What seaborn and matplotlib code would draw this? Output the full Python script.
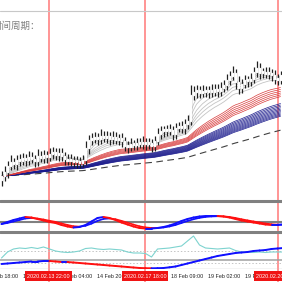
import numpy as np
import pandas as pd
import matplotlib
matplotlib.use("Agg")
import matplotlib.pyplot as plt
from matplotlib.collections import LineCollection
from matplotlib.lines import Line2D
import seaborn as sns

# hourly closes (one per candle)
closes = [
    1565.5, 1567.5, 1570.5, 1572.5, 1571.5, 1573.5, 1573.0, 1574.5, 1573.5, 1575.0,
    1574.0, 1573.0, 1575.5, 1574.5, 1576.0, 1575.0, 1576.5, 1577.5, 1576.0, 1577.0,
    1575.5, 1574.0, 1573.0, 1573.5, 1572.5, 1573.0, 1572.0, 1573.5, 1579.5, 1583.5,
    1584.0, 1585.0, 1584.0, 1585.5, 1584.5, 1585.5, 1584.0, 1585.0, 1583.5, 1584.5,
    1583.0, 1580.5, 1580.0, 1581.5, 1581.0, 1582.0, 1581.5, 1582.5, 1581.5, 1582.0,
    1580.5, 1583.0, 1586.5, 1588.0, 1588.5, 1588.0, 1588.5, 1586.5, 1589.5, 1590.0,
    1589.5, 1591.5, 1593.0, 1606.0, 1607.5, 1608.5, 1607.0, 1608.0, 1607.5, 1608.5,
    1607.5, 1609.0, 1608.0, 1609.5, 1611.0, 1613.5, 1615.5, 1617.0, 1612.5, 1609.5,
    1611.5, 1613.5, 1613.0, 1614.0, 1617.5, 1619.5, 1617.0, 1617.5, 1616.5, 1617.0,
    1616.0, 1614.0, 1613.5, 1616.0,
]
first_open = 1563.5
hi_ext = [
    2.5, 3.0, 2.5, 3.5, 2.0, 2.5, 3.0, 2.5, 2.0, 3.0,
    2.5, 2.0, 3.5, 2.5, 2.5, 2.0, 3.0, 2.5, 2.0, 2.5,
    2.5, 2.0, 2.5, 3.0, 2.0, 2.5, 2.0, 2.5, 3.5, 2.5,
    3.0, 2.5, 2.0, 3.5, 2.5, 2.5, 2.0, 3.0, 2.5, 2.0,
    2.5, 2.0, 2.5, 3.0, 2.0, 2.5, 2.5, 3.0, 2.0, 2.5,
    2.0, 2.5, 3.0, 2.5, 2.0, 2.5, 3.0, 2.0, 2.5, 2.5,
    3.0, 2.5, 3.0, 5.0, 3.0, 2.5, 2.0, 3.0, 2.5, 2.0,
    3.0, 2.5, 2.5, 3.0, 2.5, 3.0, 2.5, 3.5, 2.0, 3.0,
    2.5, 2.5, 2.0, 3.0, 2.5, 3.5, 2.5, 2.0, 2.5, 3.0,
    2.0, 2.5, 2.5, 2.0,
]
lo_ext = [
    3.0, 2.5, 3.0, 2.0, 2.5, 3.0, 2.5, 2.0, 3.0, 2.5,
    2.0, 3.0, 2.5, 2.0, 2.5, 3.0, 2.0, 2.5, 2.5, 3.0,
    2.5, 3.0, 2.0, 2.5, 2.5, 3.0, 2.5, 2.0, 2.5, 3.0,
    2.5, 2.0, 3.0, 2.5, 2.0, 2.5, 3.0, 2.5, 2.0, 2.5,
    3.0, 2.5, 3.0, 2.0, 2.5, 2.5, 2.0, 2.5, 3.0, 2.5,
    3.0, 2.5, 2.0, 2.5, 3.0, 2.5, 2.0, 3.0, 2.5, 2.0,
    2.5, 3.0, 2.5, 2.0, 2.5, 3.0, 2.5, 2.0, 2.5, 3.0,
    2.5, 2.0, 3.0, 2.5, 2.0, 2.5, 2.5, 2.0, 3.5, 3.0,
    2.5, 2.0, 3.0, 2.5, 2.0, 2.5, 3.0, 2.5, 2.0, 2.5,
    3.0, 2.5, 2.5, 2.0,
]

# moving average groups (EMA spans)
gray_spans = [4, 6, 9, 12, 15, 19]
red_spans = [32, 35, 38, 41, 44, 47]
blue_spans = [60, 63, 66, 69, 72, 75, 78, 81, 84, 87, 90]
slow_span = 140

# indicator panels, sampled every 2 bars
osc_x = list(range(0, 96, 2))
osc1 = [-2, 0, 2, 3.5, 5, 4.5, 3, 1.5,
        0, -1, -3, -4.5, -5.5, -5, -3, 0.5,
        4, 5, 4, 2, -0.5, -2.5, -4.5, -6,
        -6.5, -6.5, -6, -5, -3.5, -1.5, 1, 3,
        4.5, 5.5, 6, 6, 6, 5.5, 4.5, 3,
        1.5, 0.5, -0.5, -1.5, -2.5, -3, -3, -2.5]
osc2 = [-4, -3.5, -3, -2.5, -2, -1.5, -1.5, -1,
        -1, -1.5, -2, -2, -2.5, -3, -3.5, -4,
        -4.5, -5, -5.5, -6, -6.5, -7, -7.5, -8,
        -8.2, -8.3, -8.2, -8, -7.3, -6.5, -5, -3.5,
        -2, -0.5, 1, 2.5, 4, 5, 6, 7,
        7.5, 8, 9, 9.5, 10, 11, 11.5, 12]
cyan = [2, 8, 11, 12, 11.5, 12.5, 11.5, 13,
        11, 9, 8, 7.5, 8, 9, 11.5, 12,
        11, 10.5, 11, 10.5, 10, 8, 7, 7,
        6.5, 3, 11, 11.5, 12, 13, 14, 19,
        24, 15, 12, 11.5, 11, 11.5, 12, 9.5,
        8, 8, 7.5, 8, 7.5, 8, 8, 8]

date_labels = ["12 Feb 18:00", "13 Feb 11:00", "14 Feb 04:00", "14 Feb 20:00",
               "17 Feb 13:00", "18 Feb 09:00", "19 Feb 02:00", "19 Feb 19:00"]
date_pos = [-5.2, 7.2, 19.5, 31.8, 44.2, 56.5, 68.8, 81.2]
marker_labels = ["2020.02.13 22:00", "2020.02.17 18:00", "2020.02.20 06:00"]
marker_pos = [15.73, 47.83, 92.07]

sns.set_style("white")
plt.rcParams["font.family"] = ["Liberation Sans Narrow", "Liberation Sans", "DejaVu Sans"]

W = H = 282.0


def fy(px):
    return 1 - px / H


def slope_line(ax, xs, ys, lw):
    pts = np.column_stack([xs, ys])
    segs = np.stack([pts[:-1], pts[1:]], axis=1)
    cols = np.where(np.diff(ys) >= 0, "#1010ff", "#ff1010")
    ax.add_collection(LineCollection(segs, colors=cols, linewidths=lw, capstyle="round"))


fig = plt.figure(figsize=(2.82, 2.82), dpi=100)
fig.patch.set_facecolor("white")
ax_main = fig.add_axes([0, fy(200), 1, 200 / H])
ax_o1 = fig.add_axes([0, fy(231), 1, 29 / H])
ax_o2 = fig.add_axes([0, fy(269), 1, 36 / H])
ax_lab = fig.add_axes([0, 0, 1, 13 / H])
for ax in (ax_main, ax_o1, ax_o2, ax_lab):
    ax.set_xlim(-0.5, 93.5)
    ax.axis("off")
    for p in marker_pos:
        ax.axvline(p, color="#ff7878", lw=1.1, zorder=0.5)

# main price panel
bars = np.arange(len(closes))
c = np.array(closes)
o = np.r_[first_open, c[:-1]]
hi = np.maximum(o, c) + np.array(hi_ext)
lo = np.minimum(o, c) - np.array(lo_ext)
close_s = pd.Series(c)

sns.lineplot(x=bars, y=close_s.ewm(span=slow_span, adjust=False).mean(), ax=ax_main,
             color="#404040", lw=0.8, linestyle=(0, (6, 4)))
for s in blue_spans:
    sns.lineplot(x=bars, y=close_s.ewm(span=s, adjust=False).mean(), ax=ax_main,
                 color="#1a1a8c", lw=0.5)
for s in red_spans:
    sns.lineplot(x=bars, y=close_s.ewm(span=s, adjust=False).mean(), ax=ax_main,
                 color="#d83c3c", lw=0.5)
for s in gray_spans:
    sns.lineplot(x=bars, y=close_s.ewm(span=s, adjust=False).mean(), ax=ax_main,
                 color="#c4c4c4", lw=0.6)

ax_main.vlines(bars, lo, hi, color="#202020", lw=0.9, zorder=3)
ax_main.bar(bars, np.maximum(np.abs(c - o), 0.8), bottom=np.minimum(o, c),
            width=0.55, color="#101010", zorder=3)
ax_main.axhline(1648, color="#c8c8c8", lw=0.8)
ax_main.set_ylim(1553.5, 1653.5)

# oscillator panel 1
ax_o1.set_ylim(-9, 20)
ax_o1.axhline(0, color="#808080", lw=1.5, zorder=1)
sig = pd.Series(osc1).ewm(span=3, adjust=False).mean().values
slope_line(ax_o1, osc_x, sig, 1.2)
slope_line(ax_o1, osc_x, osc1, 1.4)

# oscillator panel 2
ax_o2.set_ylim(-9, 27)
ax_o2.axhline(0, color="#a0a0a0", lw=1.1, zorder=1)
ax_o2.axhline(9, color="#c4c4c4", lw=0.7, linestyle=(0, (1.5, 2)), zorder=1)
ax_o2.axhline(-3, color="#c4c4c4", lw=0.7, linestyle=(0, (1.5, 2)), zorder=1)
ax_o2.axhline(-9, color="#c8c8c8", lw=1.0, zorder=1)
sns.lineplot(x=osc_x, y=cyan, ax=ax_o2, color="#7dd3cf", lw=0.8)
slope_line(ax_o2, osc_x, osc2, 1.4)

# panel separators
for py in (201, 232):
    fig.add_artist(Line2D([0, 1], [fy(py), fy(py)], color="#808080", lw=2.2))

# time axis
ax_lab.set_ylim(0, 1)
for p, t in zip(date_pos, date_labels):
    ax_lab.text(p, 0.46, t, ha="left", va="center", fontsize=3.9, color="#202020",
                clip_on=False)
for p, t in zip(marker_pos, marker_labels):
    ax_lab.text(p, 0.46, t, ha="center", va="center", fontsize=3.9, color="white",
                zorder=5, clip_on=False,
                bbox=dict(boxstyle="square,pad=0.4", fc="#f01414", ec="none"))

fig.text(-8 / W, fy(26), "时间周期：", ha="left", va="center", fontsize=6.8,
         color="#808080", family=["Noto Sans CJK SC", "DejaVu Sans"])

fig.savefig("out.png", dpi=100)
plt.close(fig)
